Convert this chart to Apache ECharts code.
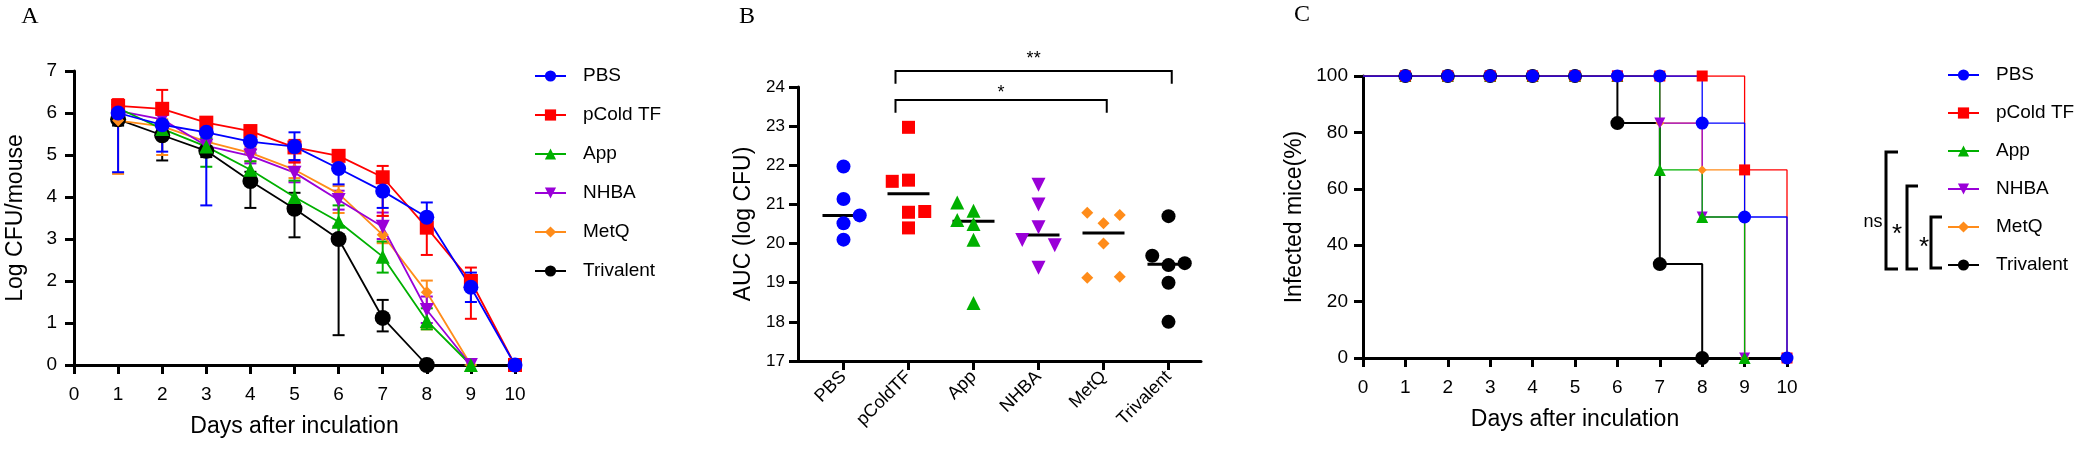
<!DOCTYPE html>
<html>
<head>
<meta charset="utf-8">
<script src="https://cdn.jsdelivr.net/npm/echarts@6/dist/echarts.min.js"></script>
<style>
html, body { margin: 0; padding: 0; background: #fff; }
#main { width: 2077px; height: 456px; }
</style>
</head>
<body>
<div id="main"></div>
<script>
// groups, colours and markers shared by the three panels
var groups = ['PBS', 'pCold TF', 'App', 'NHBA', 'MetQ', 'Trivalent'];
var colors = ['#0000ff', '#ff0000', '#00b000', '#9a00d8', '#ff8c1a', '#000000'];
var symbols = ['circle', 'rect', 'triangle', 'triangle', 'diamond', 'circle'];
var rotates = [0, 0, 0, 180, 0, 0];

// panel A: log CFU per mouse, days 1..10 (lo / hi = error bar ends)
var days = [1, 2, 3, 4, 5, 6, 7, 8, 9, 10];
var cfuPBS = [6.0, 5.72, 5.54, 5.32, 5.2, 4.68, 4.14, 3.52, 1.85, 0];
var cfuPBSLo = [4.59, 5.08, 3.8, 5.04, 4.88, 4.3, 3.74, 3.18, 1.5, 0];
var cfuPBSHi = [6.27, 5.95, 5.84, 5.5, 5.54, 4.95, 4.4, 3.87, 2.2, 0];
var cfuPcold = [6.17, 6.1, 5.77, 5.57, 5.18, 4.98, 4.47, 3.27, 2.0, 0];
var cfuPcoldLo = [6.0, 5.65, 5.62, 5.45, 4.82, 4.9, 3.55, 2.62, 1.1, 0];
var cfuPcoldHi = [6.33, 6.55, 5.9, 5.68, 5.36, 5.05, 4.74, 3.45, 2.32, 0];
var cfuApp = [6.12, 5.62, 5.2, 4.65, 4.0, 3.41, 2.58, 1.05, 0];
var cfuAppLo = [5.9, 5.4, 4.72, 4.45, 3.7, 3.1, 2.2, 0.85, 0];
var cfuAppHi = [6.25, 5.8, 5.4, 4.85, 4.39, 3.8, 2.94, 1.35, 0];
var cfuNHBA = [6.05, 5.85, 5.22, 4.98, 4.58, 3.93, 3.29, 1.31, 0];
var cfuNHBALo = [5.9, 5.6, 5.0, 4.8, 4.35, 3.7, 3.0, 1.0, 0];
var cfuNHBAHi = [6.2, 6.0, 5.4, 5.15, 4.84, 4.15, 3.63, 1.63, 0];
var cfuMetQ = [5.82, 5.68, 5.32, 5.05, 4.65, 4.08, 3.1, 1.73, 0];
var cfuMetQLo = [4.55, 5.0, 5.1, 4.85, 4.45, 3.62, 2.9, 0.85, 0];
var cfuMetQHi = [6.0, 5.85, 5.45, 5.2, 4.83, 4.26, 3.55, 2.01, 0];
var cfuTri = [5.85, 5.47, 5.1, 4.38, 3.72, 3.0, 1.12, 0];
var cfuTriLo = [5.7, 4.87, 4.95, 3.74, 3.04, 0.71, 0.8, 0];
var cfuTriHi = [6.0, 5.6, 5.3, 4.6, 4.1, 3.3, 1.55, 0];

// panel B: AUC (log CFU) per mouse, with column of each dot inside its group
var aucCats = ['PBS', 'pColdTF', 'App', 'NHBA', 'MetQ', 'Trivalent'];
var aucPBS = [21.97, 21.14, 20.72, 20.52, 20.1];
var aucPcold = [22.97, 21.59, 21.62, 20.8, 20.82, 20.4];
var aucApp = [21.05, 20.84, 20.6, 20.5, 20.1, 18.48];
var aucNHBA = [21.5, 21.0, 20.42, 20.09, 19.96, 19.38];
var aucMetQ = [20.79, 20.73, 20.52, 20.0, 19.13, 19.15];
var aucTri = [20.7, 19.69, 19.45, 19.5, 19.0, 18.0];
var colPBS = [0, 0, 1, 0, 0];
var colPcold = [0, -1, 0, 0, 1, 0];
var colApp = [-1, 0, -1, 0, 0, 0];
var colNHBA = [0, 0, 0, -1, 1, 0];
var colMetQ = [-1, 1, 0, 0, -1, 1];
var colTri = [0, -1, 0, 1, 0, 0];
var aucMedian = [20.72, 21.27, 20.57, 20.22, 20.27, 19.47];
var sigFrom = [1.8, 1.8];
var sigTo = [6.05, 5.05];
var sigY = [24.41, 23.67];
var sigTextY = [24.72, 23.84];
var sigLabel = ['**', '*'];

// panel C: infected mice (%), days 0..10
var survDays = [0, 1, 2, 3, 4, 5, 6, 7, 8, 9, 10];
var survPBS = [100, 100, 100, 100, 100, 100, 100, 100, 83.3, 50, 0];
var survPcold = [100, 100, 100, 100, 100, 100, 100, 100, 100, 66.7, 0];
var survApp = [100, 100, 100, 100, 100, 100, 100, 66.7, 50, 0];
var survNHBA = [100, 100, 100, 100, 100, 100, 100, 83.3, 50, 0];
var survMetQ = [100, 100, 100, 100, 100, 100, 100, 83.3, 66.7, 0];
var survTri = [100, 100, 100, 100, 100, 100, 83.3, 33.3, 0];

var cfu = [cfuPBS, cfuPcold, cfuApp, cfuNHBA, cfuMetQ, cfuTri];
var cfuLo = [cfuPBSLo, cfuPcoldLo, cfuAppLo, cfuNHBALo, cfuMetQLo, cfuTriLo];
var cfuHi = [cfuPBSHi, cfuPcoldHi, cfuAppHi, cfuNHBAHi, cfuMetQHi, cfuTriHi];
var auc = [aucPBS, aucPcold, aucApp, aucNHBA, aucMetQ, aucTri];
var aucCol = [colPBS, colPcold, colApp, colNHBA, colMetQ, colTri];
var surv = [survPBS, survPcold, survApp, survNHBA, survMetQ, survTri];

var FONT = '"Liberation Sans", Arial, sans-serif';
var sizeA = [15, 14, 14, 14, 12, 16];
var sizeB = [14, 13, 14, 14, 12, 14];
var sizeC = [13, 11, 12, 11, 9, 14];

function axisStyle(fontSize) {
	return {
		axisLine: { show: true, onZero: false, lineStyle: { color: '#000', width: 3 } },
		axisTick: { show: true, length: 9, lineStyle: { color: '#000', width: 3 } },
		axisLabel: { color: '#000', fontSize: fontSize, fontFamily: FONT },
		splitLine: { show: false },
		nameTextStyle: { color: '#000', fontSize: 23, fontFamily: FONT },
		nameLocation: 'middle'
	};
}

function valueAxis(grid, min, max, interval, fontSize, margin, name, gap) {
	var ax = axisStyle(fontSize);
	ax.type = 'value';
	ax.gridIndex = grid;
	ax.min = min;
	ax.max = max;
	ax.interval = interval;
	ax.axisLabel.margin = margin;
	ax.name = name;
	ax.nameGap = gap;
	return ax;
}

function errRender(color) {
	return function (params, api) {
		var x = api.value(0);
		var lo = api.coord([x, api.value(1)]);
		var hi = api.coord([x, api.value(2)]);
		var w = 6;
		var st = { stroke: color, lineWidth: 2 };
		return {
			type: 'group',
			children: [
				{ type: 'line', shape: { x1: lo[0], y1: lo[1], x2: hi[0], y2: hi[1] }, style: st },
				{ type: 'line', shape: { x1: lo[0] - w, y1: lo[1], x2: lo[0] + w, y2: lo[1] }, style: st },
				{ type: 'line', shape: { x1: hi[0] - w, y1: hi[1], x2: hi[0] + w, y2: hi[1] }, style: st }
			]
		};
	};
}

var series = [];

// panel A, drawn back to front so PBS ends on top
for (var g = groups.length - 1; g >= 0; g--) {
	var errData = [], lineData = [];
	for (var i = 0; i < cfu[g].length; i++) {
		errData.push([days[i], cfuLo[g][i], cfuHi[g][i]]);
		lineData.push([days[i], cfu[g][i]]);
	}
	series.push({
		name: groups[g] + ' SD',
		type: 'custom',
		xAxisIndex: 0,
		yAxisIndex: 0,
		renderItem: errRender(colors[g]),
		encode: { x: 0, y: [1, 2] },
		data: errData,
		silent: true
	});
	series.push({
		name: groups[g],
		type: 'line',
		xAxisIndex: 0,
		yAxisIndex: 0,
		data: lineData,
		symbol: symbols[g],
		symbolRotate: rotates[g],
		symbolSize: sizeA[g],
		lineStyle: { color: colors[g], width: 1.8 },
		itemStyle: { color: colors[g] },
		animation: false
	});
}

// panel B scatter
for (var g = 0; g < groups.length; g++) {
	series.push({
		name: groups[g],
		type: 'scatter',
		xAxisIndex: 1,
		yAxisIndex: 1,
		symbol: symbols[g],
		symbolRotate: rotates[g],
		symbolSize: sizeB[g],
		itemStyle: { color: colors[g], opacity: 1 },
		data: auc[g].map(function (v, j) {
			return [g + 1 + aucCol[g][j] * 0.25, v];
		}),
		animation: false
	});
}

series.push({
	name: 'median',
	type: 'custom',
	xAxisIndex: 1,
	yAxisIndex: 1,
	silent: true,
	data: aucMedian.map(function (m, i) { return [i + 1, m]; }),
	renderItem: function (params, api) {
		var c = api.coord([api.value(0), api.value(1)]);
		return {
			type: 'line',
			z2: 10,
			shape: { x1: c[0] - 21, y1: c[1], x2: c[0] + 21, y2: c[1] },
			style: { stroke: '#000', lineWidth: 3 }
		};
	}
});

series.push({
	name: 'significance',
	type: 'custom',
	xAxisIndex: 1,
	yAxisIndex: 1,
	silent: true,
	clip: false,
	data: sigLabel.map(function (s, i) { return [sigFrom[i], sigTo[i], sigY[i], sigTextY[i]]; }),
	renderItem: function (params, api) {
		var y = api.value(2);
		var a = api.coord([api.value(0), y]);
		var b = api.coord([api.value(1), y]);
		var a2 = api.coord([api.value(0), y - 0.33]);
		var t = api.coord([(api.value(0) + api.value(1)) / 2, api.value(3)]);
		return {
			type: 'group',
			children: [
				{
					type: 'polyline',
					shape: { points: [[a2[0], a2[1]], a, b, [b[0], a2[1]]] },
					style: { stroke: '#000', lineWidth: 2, fill: null }
				},
				{
					type: 'text',
					x: t[0],
					y: t[1],
					style: {
						text: sigLabel[params.dataIndex],
						fontSize: 18,
						fontFamily: FONT,
						fill: '#000',
						align: 'center',
						verticalAlign: 'middle'
					}
				}
			]
		};
	}
});

// panel C step curves, back to front
for (var g = groups.length - 1; g >= 0; g--) {
	series.push({
		name: groups[g],
		type: 'line',
		xAxisIndex: 2,
		yAxisIndex: 2,
		step: 'end',
		symbol: symbols[g],
		symbolRotate: rotates[g],
		symbolSize: sizeC[g],
		lineStyle: { color: colors[g], width: g === 5 ? 2 : 1.3 },
		itemStyle: { color: colors[g] },
		data: surv[g].map(function (v, i) {
			var item = { value: [survDays[i], v] };
			if (i === 0) item.symbol = 'none';
			return item;
		}),
		animation: false
	});
}

var xB = axisStyle(18);
xB.type = 'value';
xB.gridIndex = 1;
xB.min = 0.3;
xB.max = 6.5;
xB.axisTick.customValues = [1, 2, 3, 4, 5, 6];
xB.axisLabel.customValues = [1, 2, 3, 4, 5, 6];
xB.axisLabel.rotate = 45;
xB.axisLabel.margin = 13;
xB.axisLabel.formatter = function (v) { return aucCats[Math.round(v) - 1] || ''; };

function legendAt(left, top, gap) {
	return {
		orient: 'vertical',
		left: left,
		top: top,
		padding: 0,
		itemWidth: 31,
		itemHeight: 14,
		itemGap: gap,
		data: groups,
		textStyle: { color: '#000', fontSize: 19, fontFamily: FONT, lineHeight: 20, padding: [0, 0, 0, 12] }
	};
}

function label(txt, x, y) {
	return {
		type: 'text',
		x: x,
		y: y,
		style: { text: txt, fontSize: 24, fontFamily: '"Liberation Serif", "Times New Roman", serif', fill: '#000', align: 'center', verticalAlign: 'middle' }
	};
}

function bracket(x, x2, y1, y2) {
	return {
		type: 'polyline',
		shape: { points: [[x2, y1], [x, y1], [x, y2], [x2, y2]] },
		style: { stroke: '#000', lineWidth: 3, fill: null }
	};
}

function note(txt, x, y, size) {
	return {
		type: 'text',
		x: x,
		y: y,
		style: { text: txt, fontSize: size, fontFamily: FONT, fill: '#000', align: 'center', verticalAlign: 'middle' }
	};
}

var myChart = echarts.init(document.getElementById('main'));

var option = {
	backgroundColor: '#fff',
	animation: false,
	grid: [
		{ left: 74, top: 71, width: 441, height: 294 },
		{ left: 798, top: 87, width: 403, height: 274 },
		{ left: 1363, top: 76, width: 424, height: 282 }
	],
	xAxis: [
		valueAxis(0, 0, 10, 1, 19, 20, 'Days after inculation', 50),
		xB,
		valueAxis(2, 0, 10, 1, 19, 20, 'Days after inculation', 50)
	],
	yAxis: [
		valueAxis(0, 0, 7, 1, 19, 17, 'Log CFU/mouse', 47),
		valueAxis(1, 17, 24, 1, 17, 13, 'AUC (log CFU)', 43),
		valueAxis(2, 0, 100, 20, 19, 15, 'Infected mice(%)', 57)
	],
	legend: [
		legendAt(534, 66, 19),
		legendAt(1947, 65, 18)
	],
	graphic: [
		label('A', 30, 17),
		label('B', 747, 17),
		label('C', 1302, 15),
		bracket(1886, 1898, 152, 269),
		bracket(1907, 1918, 186, 269),
		bracket(1931, 1942, 217, 268),
		note('ns', 1873, 222, 18),
		note('*', 1897, 235, 26),
		note('*', 1924, 248, 26)
	],
	series: series
};

myChart.setOption(option);
</script>
</body>
</html>
